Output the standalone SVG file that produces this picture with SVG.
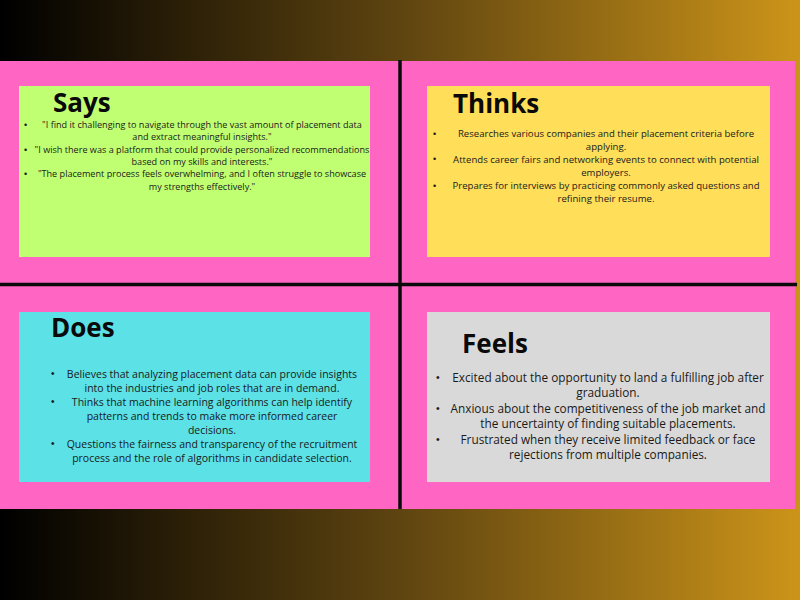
<svg xmlns="http://www.w3.org/2000/svg" width="800" height="600" viewBox="0 0 800 600">
<defs>
<linearGradient id="bg" x1="0" y1="0" x2="1" y2="0">
<stop offset="0" stop-color="#000000"/>
<stop offset="0.5" stop-color="#5e4410"/>
<stop offset="1" stop-color="#cc9419"/>
</linearGradient>
</defs>
<style>
.title{font-family:"Open Sans","Liberation Sans",sans-serif;font-weight:700;font-size:26px;fill:#0a0a0a}
.body{font-family:"Open Sans","Liberation Sans",sans-serif;fill:#1a1a1a;text-anchor:middle}
.bul{font-family:"Liberation Sans",sans-serif;fill:#1a1a1a}
.div{stroke:#0a0a0a;stroke-width:3.5}
</style>
<rect x="0" y="0" width="800" height="600" fill="url(#bg)"/>
<rect x="0" y="61" width="795" height="448" fill="#ff66c4"/>

<g id="dividers">
<line class="div" x1="400" y1="60" x2="400" y2="509"/>
<line class="div" x1="0" y1="284.5" x2="797" y2="284.5"/>
</g>

<g id="says">
<rect x="19" y="86" width="351" height="171" fill="#c1ff72"/>
<text class="title" x="53" y="112">Says</text>
<g class="bul" font-size="9"><text x="24" y="128">•</text><text x="24" y="153">•</text><text x="24" y="177">•</text></g>
<g class="body" font-size="9.1">
<text x="202" y="128">"I find it challenging to navigate through the vast amount of placement data</text>
<text x="202" y="140">and extract meaningful insights."</text>
<text x="202" y="153">"I wish there was a platform that could provide personalized recommendations</text>
<text x="202" y="165">based on my skills and interests."</text>
<text x="202" y="177">"The placement process feels overwhelming, and I often struggle to showcase</text>
<text x="202" y="190">my strengths effectively."</text>
</g>
</g>

<g id="thinks">
<rect x="427" y="86" width="343" height="171" fill="#ffde59"/>
<text class="title" x="453" y="113">Thinks</text>
<g class="bul" font-size="9"><text x="433" y="137">•</text><text x="433" y="162">•</text><text x="433" y="189">•</text></g>
<g class="body" font-size="9.6">
<text x="606" y="137">Researches various companies and their placement criteria before</text>
<text x="606" y="149.5">applying.</text>
<text x="606" y="162.5">Attends career fairs and networking events to connect with potential</text>
<text x="606" y="175.5">employers.</text>
<text x="606" y="189">Prepares for interviews by practicing commonly asked questions and</text>
<text x="606" y="202">refining their resume.</text>
</g>
</g>

<g id="does">
<rect x="19" y="312" width="351" height="170" fill="#5ce1e6"/>
<text class="title" x="51" y="337">Does</text>
<g class="bul" font-size="10"><text x="51" y="377">•</text><text x="51" y="405">•</text><text x="51" y="447">•</text></g>
<g class="body" font-size="10.5">
<text x="212" y="378">Believes that analyzing placement data can provide insights</text>
<text x="212" y="392">into the industries and job roles that are in demand.</text>
<text x="212" y="406">Thinks that machine learning algorithms can help identify</text>
<text x="212" y="420">patterns and trends to make more informed career</text>
<text x="212" y="434">decisions.</text>
<text x="212" y="448">Questions the fairness and transparency of the recruitment</text>
<text x="212" y="462">process and the role of algorithms in candidate selection.</text>
</g>
</g>

<g id="feels">
<rect x="427" y="312" width="343" height="170" fill="#d9d9d9"/>
<text class="title" x="462" y="353">Feels</text>
<g class="bul" font-size="10.5"><text x="436" y="381">•</text><text x="436" y="412">•</text><text x="436" y="443">•</text></g>
<g class="body" font-size="11.8">
<text x="608" y="381.5">Excited about the opportunity to land a fulfilling job after</text>
<text x="608" y="397">graduation.</text>
<text x="608" y="412.5">Anxious about the competitiveness of the job market and</text>
<text x="608" y="428">the uncertainty of finding suitable placements.</text>
<text x="608" y="443.5">Frustrated when they receive limited feedback or face</text>
<text x="608" y="459">rejections from multiple companies.</text>
</g>
</g>
</svg>
